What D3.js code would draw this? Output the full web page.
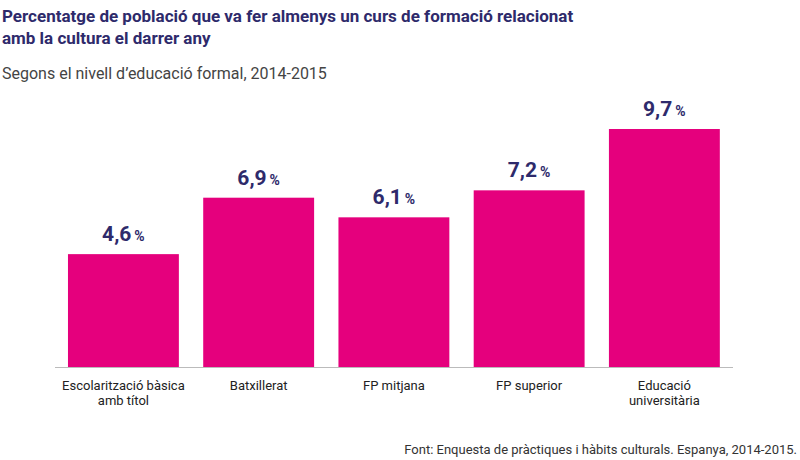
<!DOCTYPE html>
<html><head><meta charset="utf-8">
<script src="https://cdn.jsdelivr.net/npm/d3@7"></script>
<style>body{margin:0;background:#fff}text{font-family:Roboto,"Liberation Sans",sans-serif}</style>
</head><body><svg id="c" width="800" height="460"></svg>
<script>
const categories=[["Escolarització bàsica","amb títol"],["Batxillerat"],["FP mitjana"],["FP superior"],["Educació","universitària"]];
const values=[4.6,6.9,6.1,7.2,9.7];
const labels=["4,6","6,9","6,1","7,2","9,7"];
const svg=d3.select("#c");
const navy="#2e2a6b";
svg.append("text").attr("x",2).attr("y",22).attr("font-size",17).attr("font-weight",700).attr("fill",navy).text("Percentatge de població que va fer almenys un curs de formació relacionat");
svg.append("text").attr("x",2).attr("y",44).attr("font-size",17).attr("font-weight",700).attr("fill",navy).text("amb la cultura el darrer any");
svg.append("text").attr("x",2).attr("y",79).attr("font-size",16).attr("fill","#444").text("Segons el nivell d’educació formal, 2014-2015");
const x=d3.scaleBand().domain(d3.range(values.length)).range([55.8,732]).paddingInner(0.18).paddingOuter(0.09);
const y=d3.scaleLinear().domain([0,9.7]).range([367,129]);
svg.selectAll("rect").data(values).join("rect").attr("x",(d,i)=>x(i)).attr("width",x.bandwidth()).attr("y",d=>y(d)).attr("height",d=>y(0)-y(d)).attr("fill","#e5007d");
svg.append("line").attr("x1",55).attr("x2",733).attr("y1",367.5).attr("y2",367.5).attr("stroke","#bbb");
values.forEach((d,i)=>{
  const t=svg.append("text").attr("x",x(i)+x.bandwidth()/2).attr("y",y(d)-13).attr("text-anchor","middle").attr("fill",navy).attr("font-weight",700);
  t.append("tspan").attr("font-size",21).text(labels[i]);
  t.append("tspan").attr("font-size",14).attr("dx",3).text("%");
  categories[i].forEach((l,j)=>svg.append("text").attr("x",x(i)+x.bandwidth()/2).attr("y",390+j*15).attr("text-anchor","middle").attr("font-size",13).attr("fill","#222").text(l));
});
svg.append("text").attr("x",797).attr("y",454).attr("text-anchor","end").attr("font-size",13).attr("fill","#333").text("Font: Enquesta de pràctiques i hàbits culturals. Espanya, 2014-2015.");
</script></body></html>
